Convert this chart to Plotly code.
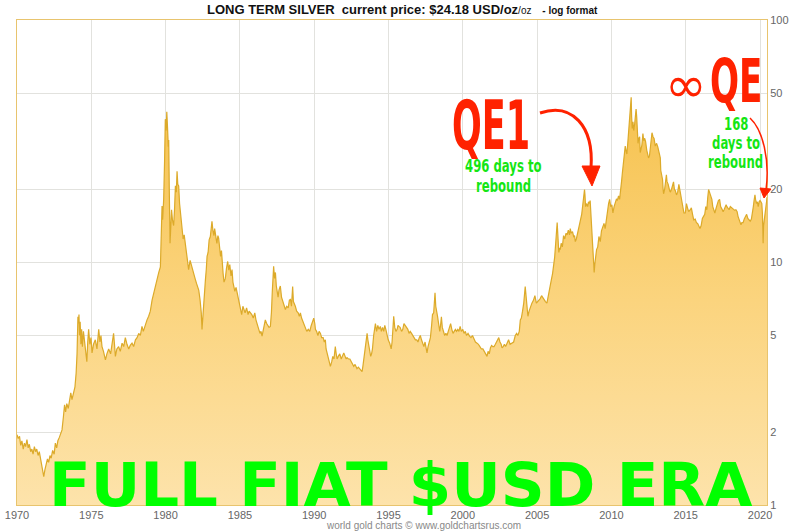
import plotly.graph_objects as go

# ---------------- data ----------------
years = [
1970.00,1970.08,1970.17,1970.25,1970.33,1970.42,1970.50,1970.58,1970.67,1970.75,1970.83,1970.92,
1971.00,1971.08,1971.17,1971.25,1971.33,1971.42,1971.50,1971.58,1971.67,1971.75,1971.80,1971.88,1971.96,
1972.05,1972.13,1972.22,1972.30,1972.40,1972.50,1972.58,1972.67,1972.75,1972.85,1972.95,
1973.03,1973.12,1973.20,1973.27,1973.35,1973.45,1973.55,1973.62,1973.70,1973.80,1973.90,1973.98,
1974.04,1974.10,1974.14,1974.17,1974.21,1974.25,1974.30,1974.35,1974.40,1974.47,1974.55,1974.62,1974.70,1974.76,1974.82,1974.90,1974.98,
1975.05,1975.15,1975.27,1975.38,1975.50,1975.58,1975.65,1975.72,1975.82,1975.95,
1976.05,1976.17,1976.30,1976.40,1976.50,1976.56,1976.62,1976.72,1976.84,1976.95,
1977.07,1977.18,1977.29,1977.40,1977.52,1977.62,1977.74,1977.85,1977.97,
1978.08,1978.19,1978.30,1978.41,1978.50,1978.58,1978.64,1978.75,1978.86,1978.97,
1979.09,1979.20,1979.31,1979.42,1979.54,1979.65,1979.70,1979.76,1979.80,1979.87,1979.93,1979.98,
1980.04,1980.08,1980.13,1980.18,1980.21,1980.25,1980.30,1980.34,1980.40,1980.46,1980.54,1980.60,1980.66,1980.72,1980.77,1980.82,1980.88,1980.94,
1981.00,1981.10,1981.18,1981.25,1981.33,1981.42,1981.50,1981.55,1981.65,1981.75,1981.89,1981.98,
1982.08,1982.15,1982.23,1982.32,1982.40,1982.45,1982.50,1982.56,1982.63,1982.68,1982.74,1982.79,1982.86,1982.93,
1983.01,1983.08,1983.12,1983.18,1983.25,1983.30,1983.35,1983.45,1983.52,1983.57,1983.63,1983.70,1983.76,1983.80,1983.87,1983.93,
1984.02,1984.10,1984.18,1984.25,1984.32,1984.40,1984.47,1984.53,1984.58,1984.66,1984.74,1984.81,1984.90,1984.97,
1985.03,1985.12,1985.20,1985.26,1985.35,1985.45,1985.55,1985.62,1985.70,1985.80,1985.90,
1986.00,1986.08,1986.17,1986.27,1986.35,1986.42,1986.49,1986.55,1986.62,1986.71,1986.80,1986.88,1986.96,
1987.05,1987.12,1987.18,1987.23,1987.27,1987.33,1987.39,1987.45,1987.50,1987.57,1987.63,1987.72,1987.80,1987.88,1987.95,
1988.06,1988.15,1988.25,1988.33,1988.40,1988.47,1988.52,1988.55,1988.60,1988.66,1988.73,1988.82,1988.92,
1989.00,1989.07,1989.15,1989.25,1989.33,1989.40,1989.50,1989.60,1989.70,1989.80,1989.90,1989.97,
1990.04,1990.08,1990.16,1990.25,1990.33,1990.42,1990.50,1990.60,1990.68,1990.75,1990.80,1990.86,1990.95,
1991.02,1991.09,1991.18,1991.25,1991.33,1991.42,1991.48,1991.54,1991.62,1991.72,1991.82,1991.90,1991.99,
1992.08,1992.15,1992.21,1992.30,1992.40,1992.50,1992.58,1992.66,1992.75,1992.82,1992.88,1992.97,
1993.05,1993.15,1993.22,1993.28,1993.33,1993.40,1993.47,1993.52,1993.56,1993.61,1993.67,1993.73,1993.80,1993.86,1993.92,
1994.00,1994.06,1994.12,1994.20,1994.28,1994.36,1994.45,1994.52,1994.60,1994.68,1994.75,1994.82,1994.90,1994.98,
1995.08,1995.18,1995.24,1995.30,1995.35,1995.42,1995.50,1995.58,1995.64,1995.70,1995.78,1995.88,1995.96,
1996.04,1996.12,1996.20,1996.30,1996.38,1996.46,1996.55,1996.64,1996.72,1996.81,1996.90,1996.98,
1997.07,1997.14,1997.22,1997.30,1997.38,1997.46,1997.52,1997.59,1997.66,1997.74,1997.82,1997.90,1997.96,
1998.04,1998.09,1998.13,1998.18,1998.23,1998.30,1998.37,1998.45,1998.50,1998.56,1998.62,1998.70,1998.78,1998.86,1998.94,
1999.02,1999.10,1999.18,1999.26,1999.34,1999.42,1999.50,1999.58,1999.66,1999.74,1999.82,1999.90,
2000.00,2000.08,2000.17,2000.25,2000.35,2000.45,2000.55,2000.65,2000.75,2000.85,2000.96,
2001.05,2001.15,2001.25,2001.35,2001.45,2001.55,2001.63,2001.70,2001.78,2001.86,2001.94,
2002.02,2002.10,2002.19,2002.27,2002.35,2002.42,2002.50,2002.58,2002.64,2002.72,2002.80,2002.88,2002.98,
2003.08,2003.18,2003.31,2003.42,2003.53,2003.62,2003.70,2003.80,2003.87,2003.94,
2004.02,2004.10,2004.20,2004.26,2004.31,2004.38,2004.46,2004.55,2004.65,2004.76,2004.85,2004.95,
2005.05,2005.13,2005.21,2005.30,2005.40,2005.48,2005.56,2005.66,2005.74,2005.82,2005.88,2005.96,
2006.04,2006.11,2006.18,2006.25,2006.30,2006.35,2006.41,2006.46,2006.52,2006.56,2006.62,2006.70,2006.78,2006.86,2006.94,
2007.02,2007.10,2007.18,2007.23,2007.30,2007.38,2007.46,2007.52,2007.57,2007.64,2007.72,2007.80,2007.87,2007.93,
2008.00,2008.06,2008.13,2008.19,2008.22,2008.26,2008.32,2008.40,2008.46,2008.52,2008.57,2008.62,2008.66,2008.71,2008.76,2008.80,2008.84,2008.88,2008.94,
2009.00,2009.08,2009.16,2009.25,2009.33,2009.42,2009.50,2009.58,2009.66,2009.74,2009.81,2009.88,2009.95,
2010.03,2010.10,2010.18,2010.26,2010.34,2010.40,2010.48,2010.55,2010.62,2010.68,2010.74,2010.82,2010.88,2010.93,2010.98,
2011.04,2011.10,2011.16,2011.21,2011.26,2011.30,2011.33,2011.36,2011.40,2011.45,2011.50,2011.56,2011.62,2011.66,2011.70,2011.74,2011.79,2011.84,2011.90,2011.94,2011.99,
2012.05,2012.12,2012.17,2012.24,2012.30,2012.38,2012.45,2012.50,2012.56,2012.62,2012.68,2012.73,2012.80,2012.87,2012.95,
2013.04,2013.12,2013.20,2013.29,2013.32,2013.38,2013.44,2013.48,2013.51,2013.58,2013.64,2013.70,2013.74,2013.82,2013.90,2013.96,
2014.04,2014.12,2014.18,2014.24,2014.30,2014.38,2014.46,2014.54,2014.60,2014.66,2014.72,2014.80,2014.88,2014.97,
2015.05,2015.12,2015.20,2015.31,2015.38,2015.46,2015.54,2015.64,2015.72,2015.80,2015.88,2015.96,
2016.04,2016.12,2016.20,2016.28,2016.35,2016.42,2016.48,2016.54,2016.60,2016.66,2016.76,2016.82,2016.88,2016.96,
2017.05,2017.12,2017.20,2017.28,2017.35,2017.44,2017.52,2017.58,2017.65,2017.72,2017.77,2017.85,2017.92,
2018.00,2018.08,2018.16,2018.22,2018.30,2018.38,2018.46,2018.52,2018.60,2018.66,2018.72,2018.78,2018.86,2018.94,
2019.02,2019.10,2019.18,2019.26,2019.34,2019.42,2019.48,2019.55,2019.60,2019.66,2019.70,2019.76,2019.82,2019.88,2019.94,
2020.00,2020.06,2020.12,2020.16,2020.19,2020.21,2020.24,2020.28,2020.33,2020.38,2020.42,2020.44,2020.47,
]

prices = [
1.95,1.88,1.92,1.76,1.84,1.70,1.80,1.74,1.86,1.72,1.78,1.66,
1.70,1.62,1.74,1.66,1.70,1.60,1.66,1.56,1.48,1.36,1.31,1.40,1.48,
1.55,1.50,1.60,1.56,1.68,1.62,1.80,1.72,1.84,1.90,1.98,
2.04,2.30,2.59,2.42,2.62,2.50,2.78,2.90,2.72,2.95,3.07,3.50,
4.20,5.98,5.60,6.10,5.00,5.70,4.60,5.30,4.50,5.20,4.60,4.20,3.90,4.70,5.30,4.60,4.90,
4.24,4.60,4.80,4.40,5.30,4.70,5.00,4.50,4.30,3.97,
4.20,4.40,4.20,4.70,5.10,4.60,4.10,4.40,4.50,4.30,
4.65,4.50,4.90,4.60,4.40,4.55,4.65,4.50,4.80,
4.90,5.10,5.00,5.45,5.20,5.40,5.60,5.80,6.00,6.30,
7.00,7.50,7.96,8.50,9.10,9.60,12.5,17.1,15.0,18.2,26.0,39.0,
35.0,41.8,36.0,30.0,32.0,19.5,12.0,13.7,16.5,15.0,14.2,16.5,20.7,19.5,23.8,21.0,20.7,17.5,
16.0,14.1,12.5,13.0,11.7,10.5,10.0,9.35,10.2,9.6,9.10,8.6,
8.2,7.9,7.7,7.0,6.2,5.3,6.0,6.6,7.5,8.5,9.4,10.6,11.0,12.4,
12.8,14.0,14.8,13.6,12.9,13.8,13.2,12.0,12.9,12.6,11.6,10.6,11.2,9.96,9.0,8.3,
8.6,9.5,10.1,9.3,9.8,8.8,9.35,8.3,7.96,7.6,7.9,7.5,7.0,6.7,
6.4,6.1,6.6,6.4,6.2,6.5,6.1,6.3,6.2,6.1,5.9,
6.2,5.8,5.6,5.3,5.1,5.2,4.97,5.2,5.4,5.8,5.6,5.5,5.4,
5.45,6.2,7.6,8.8,9.65,8.6,9.1,8.0,7.5,7.2,7.7,8.0,7.2,6.9,6.7,
6.4,6.6,6.5,7.0,7.04,6.6,7.5,7.96,6.9,6.8,6.6,6.3,6.2,
6.0,6.2,5.9,5.7,5.6,5.45,5.2,5.3,5.2,5.5,5.7,5.9,
5.6,5.3,5.2,5.0,5.2,5.1,4.9,4.9,4.7,4.8,4.4,4.24,4.0,
3.9,3.73,3.9,4.1,4.0,4.5,4.2,4.0,4.1,4.2,4.0,4.1,4.24,
4.1,4.0,4.05,4.0,4.0,3.9,3.8,3.73,3.8,3.7,3.65,3.7,
3.65,3.6,3.55,3.75,3.93,4.3,4.6,4.9,5.1,4.8,4.5,4.3,4.1,4.2,4.4,
5.0,5.3,5.6,5.2,5.5,5.3,5.45,5.2,5.4,5.2,5.5,5.3,5.0,4.8,
4.65,4.4,4.7,5.4,6.0,5.4,5.2,5.3,5.5,5.45,5.4,5.2,5.3,
5.6,5.5,5.4,5.3,5.1,5.2,5.1,5.0,4.9,4.8,4.8,4.7,
4.9,5.0,4.8,4.6,4.5,4.7,4.4,4.24,4.5,4.7,4.9,5.5,6.1,
6.2,6.7,7.5,6.6,6.2,6.0,5.6,5.2,5.5,5.97,5.4,5.2,5.0,5.1,5.0,
5.2,5.4,5.6,5.3,5.1,5.2,5.3,5.2,5.3,5.2,5.45,5.2,
5.3,5.1,5.2,5.0,5.1,4.97,4.9,5.0,4.8,4.7,4.65,
4.6,4.5,4.4,4.4,4.3,4.2,4.1,4.3,4.2,4.45,4.55,
4.5,4.5,4.6,4.7,4.85,4.9,4.7,4.6,4.45,4.5,4.6,4.5,4.65,
4.8,4.6,4.65,4.7,5.0,5.1,5.0,5.2,5.8,5.9,
6.3,6.8,7.96,7.2,6.2,6.0,6.3,6.6,6.8,7.0,7.3,6.8,
6.9,7.0,7.1,7.3,7.1,7.0,6.9,6.8,7.3,7.6,7.96,8.5,
9.0,9.65,10.5,12.0,13.5,14.6,12.5,11.0,11.5,11.3,12.0,11.6,12.9,12.5,13.2,
13.0,13.6,13.0,13.8,13.2,13.4,12.8,12.9,12.2,12.5,13.3,14.0,14.5,15.1,
15.8,16.8,18.2,20.0,19.0,17.0,17.5,17.0,17.8,17.5,18.0,16.0,13.8,12.4,11.0,9.6,9.1,9.8,10.5,
11.3,11.6,12.8,12.2,13.5,14.0,14.5,13.8,15.1,16.5,17.5,18.2,17.0,
17.3,16.0,17.0,17.7,18.3,18.0,18.8,18.2,19.5,21.5,23.5,26.0,28.5,30.2,29.0,
28.0,31.0,34.3,38.0,42.0,47.0,48.0,40.0,35.7,38.0,35.0,37.0,40.5,42.9,40.0,33.2,31.0,32.5,33.0,28.4,29.5,
30.5,34.0,31.8,32.5,31.5,29.0,28.0,27.0,27.5,30.0,32.0,34.3,33.0,32.5,30.2,
31.0,30.0,28.5,27.0,24.0,23.0,22.0,20.0,19.2,20.0,22.5,23.0,21.6,21.0,20.0,19.5,
20.0,21.0,21.5,20.0,19.8,19.0,19.5,21.0,20.0,19.0,17.5,16.5,16.0,16.0,
17.5,16.8,16.2,16.5,16.8,15.8,15.0,15.1,14.6,14.5,14.2,13.8,
14.2,15.2,15.5,15.8,17.0,16.5,18.5,20.0,19.5,19.0,18.2,17.0,16.5,16.0,
16.8,17.5,18.0,18.2,17.0,16.6,16.2,16.5,17.0,17.3,17.0,16.8,16.5,
17.0,16.8,16.6,16.5,16.4,16.5,16.2,15.5,15.0,14.5,14.3,14.6,14.6,15.1,
15.6,15.8,15.2,15.0,14.8,15.1,15.8,17.0,18.0,19.0,18.2,17.5,17.8,17.0,17.8,
18.0,17.8,17.5,16.0,13.0,12.0,14.2,14.8,15.2,16.0,17.0,17.8,18.6,
]

x_ticks = [1970, 1975, 1980, 1985, 1990, 1995, 2000, 2005, 2010, 2015, 2020]
y_ticks = [1, 2, 5, 10, 20, 50, 100]
y_tick_text = ["1", "2", "5", "10", "20", "50", "100"]
X_RANGE = [1970, 2020.47]
Y_MIN, Y_MAX = 1, 100

# ---------------- layout geometry ----------------
W, H = 800, 531
L, R, T, B = 17, 767, 20, 505


def px(xp):
    return (xp - L) / (R - L)


def py(yp):
    return (B - yp) / (B - T)


def path(points, cmd):
    return cmd.format(*[v for p in points for v in (px(p[0]), py(p[1]))])


fig = go.Figure()

# baseline at bottom of the log axis, used as fill target
fig.add_trace(go.Scatter(
    x=[X_RANGE[0], X_RANGE[1]], y=[Y_MIN, Y_MIN], mode="lines",
    line=dict(width=0, color="rgba(0,0,0,0)"), hoverinfo="skip", showlegend=False))

fig.add_trace(go.Scatter(
    x=years, y=prices, mode="lines",
    line=dict(color="#dcaa2a", width=1.2),
    fill="tonexty",
    fillgradient=dict(type="vertical",
                      colorscale=[[0, "#fde3ab"], [0.5, "#fbd47e"], [1, "#f6c24e"]]),
    showlegend=False))

grid = "#e2e2de"
tickfont = dict(family="Liberation Sans, Arial, sans-serif", size=11, color="#666666")
fig.update_xaxes(
    range=X_RANGE, tickvals=x_ticks, showgrid=True, gridcolor=grid, gridwidth=1,
    showline=True, linecolor="#e8c46e", linewidth=1, mirror=True, ticks="",
    tickfont=tickfont, zeroline=False, automargin=False)
fig.update_yaxes(
    type="log", range=[0, 2], side="right", tickvals=y_ticks, ticktext=y_tick_text,
    showgrid=True, gridcolor=grid, gridwidth=1,
    showline=True, linecolor="#e8c46e", linewidth=1, mirror=True, ticks="",
    tickfont=tickfont, zeroline=False, automargin=False)

annotations = []


def note(xp, yp, text, family, size, color):
    annotations.append(dict(
        x=px(xp), y=py(yp), xref="paper", yref="paper", showarrow=False,
        xanchor="center", yanchor="middle", text=text,
        font=dict(family=family, size=size, color=color)))


sans = "Liberation Sans, Arial, sans-serif"
cond = "DejaVu Sans Condensed, DejaVu Sans, sans-serif"
red = "#ff2200"
green = "#14e614"

# title
note(402, 9,
     "<b>LONG TERM SILVER&nbsp;&nbsp;current price: $24.18 USD/oz</b>"
     "<span style='font-size:10px'>/oz</span>&nbsp;&nbsp;&nbsp;"
     "<b><span style='font-size:10px'>- log format</span></b>",
     sans, 13, "#111111")
# footer credit
note(423, 525, "world gold charts © www.goldchartsrus.com", sans, 10, "#888888")
# big green era text
note(401, 484, "<b>FULL FIAT $USD ERA</b>", "DejaVu Sans, sans-serif", 61, "#00ff00")

# QE1 block
note(491, 125, "<b>QE1</b>", cond, 39, red)
note(503, 165, "<b>496 days to</b>", cond, 13, green)
note(503.5, 185, "<b>rebound</b>", cond, 13, green)
# infinity QE block
note(686, 85, "∞", "DejaVu Sans, sans-serif", 50, red)
note(736, 81, "<b>QE</b>", cond, 38, red)
note(735.5, 123, "<b>168</b>", cond, 13, green)
note(736, 142, "<b>days to</b>", cond, 13, green)
note(735.5, 162, "<b>rebound</b>", cond, 13, green)

shapes = []
# QE1 curved arrow
shapes.append(dict(
    type="path", xref="paper", yref="paper",
    path=path([(540, 113), (572, 102), (594, 126), (591, 168)], "M {0},{1} C {2},{3} {4},{5} {6},{7}"),
    line=dict(color=red, width=3)))
shapes.append(dict(
    type="path", xref="paper", yref="paper",
    path=path([(582, 166), (600, 166), (592, 186)], "M {0},{1} L {2},{3} L {4},{5} Z"),
    fillcolor=red, line=dict(color=red, width=1)))
# infinity QE curved arrow
shapes.append(dict(
    type="path", xref="paper", yref="paper",
    path=path([(750, 118), (763, 130), (770, 160), (766, 190)], "M {0},{1} C {2},{3} {4},{5} {6},{7}"),
    line=dict(color=red, width=1.5)))
shapes.append(dict(
    type="path", xref="paper", yref="paper",
    path=path([(760, 188), (771, 189), (764, 198)], "M {0},{1} L {2},{3} L {4},{5} Z"),
    fillcolor=red, line=dict(color=red, width=1)))

fig.update_layout(
    width=W, height=H,
    margin=dict(l=L, r=W - R, t=T, b=H - B, autoexpand=False),
    paper_bgcolor="white", plot_bgcolor="white",
    showlegend=False, annotations=annotations, shapes=shapes,
    font=dict(family=sans),
)

# remove the page's default body margin and give the condensed
# headline texts their tall, Impact-like proportions
post = """
document.body.style.margin = '0';
document.body.style.overflow = 'hidden';
var scales = {'QE1': 1.75, 'QE': 1.6, '496 days to': 1.4, 'rebound': 1.4,
              '168': 1.4, 'days to': 1.4};
document.querySelectorAll('text.annotation-text').forEach(function (t) {
  var s = scales[t.textContent];
  if (s) {
    t.style.transformBox = 'fill-box';
    t.style.transformOrigin = 'center';
    t.style.transform = 'scaleY(' + s + ')';
  }
});
"""

fig.write_html("out.html", post_script=post, config={"displayModeBar": False})
